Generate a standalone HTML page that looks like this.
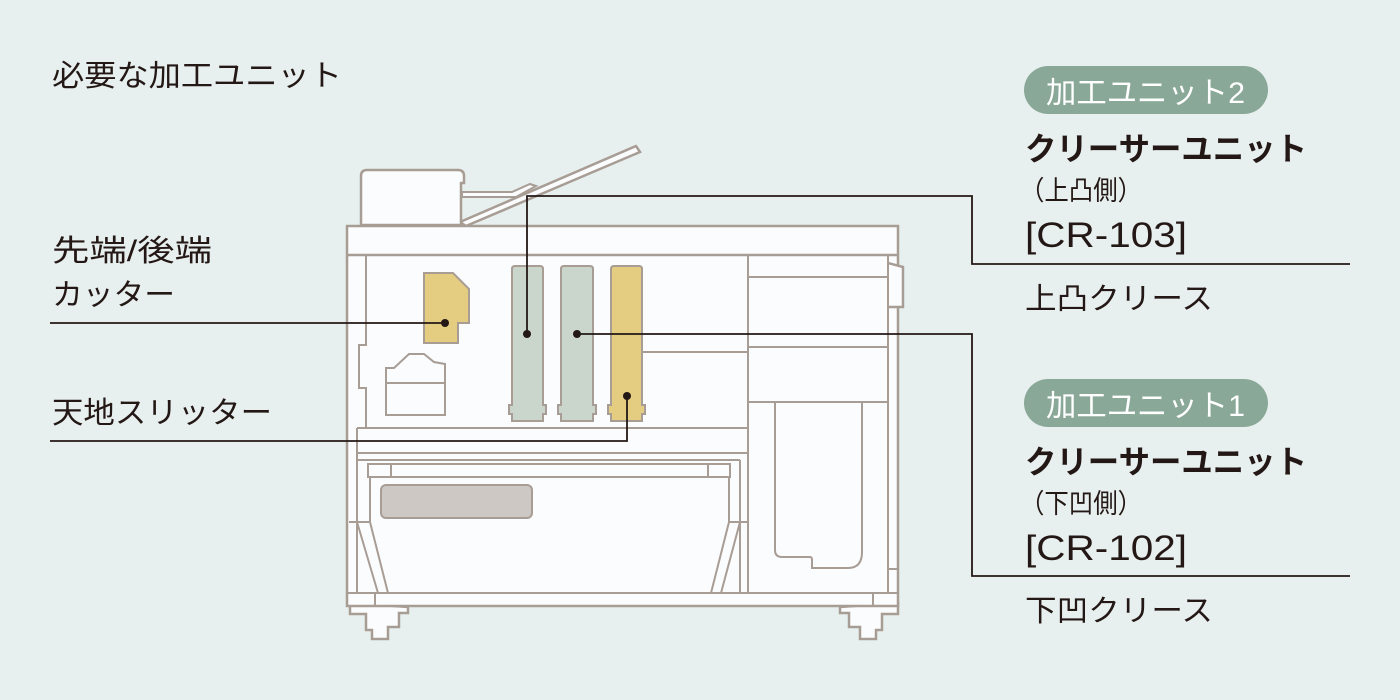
<!DOCTYPE html>
<html><head><meta charset="utf-8"><style>
html,body{margin:0;padding:0;background:#e8f0ef;}
svg{display:block;}
text{font-family:"Liberation Sans","Noto Sans CJK JP",sans-serif;fill:#231815;}
</style></head><body>
<svg width="1400" height="700" viewBox="0 0 1400 700" xmlns="http://www.w3.org/2000/svg">
<rect width="1400" height="700" fill="#e8f0ef"/>
<g fill="#fbfcfd" stroke="#a89d95" stroke-width="2.5">
  <polygon points="460,222 636,146 640,152 466,226"/>
  <polygon points="462,192 512,192 530,184 536,186 516,197 462,197" stroke-width="2"/>
  <path d="M361,225 L361,176 Q361,170 367,170 L458,170 Q464,170 464,176 L464,183 L461,183 L461,225 Z"/>
  <path d="M350,603 L350,614 L366,614 L366,630 L372,630 L372,639 L388,639 L388,627 L399,627 L399,613 L408,613 L408,607 Z"/>
  <path d="M898,603 L898,614 L882,614 L882,630 L876,630 L876,639 L860,639 L860,627 L849,627 L849,613 L840,613 L840,607 Z"/>
  <rect x="347" y="226" width="551" height="380"/>
  <line x1="347" y1="255" x2="898" y2="255"/>
  <path d="M888,263 L903,267 L903,307 L888,307" />
</g>
<g fill="none" stroke="#a89d95" stroke-width="2">
  <path d="M366,255 L366,345 L359,345 L359,388 L366,388 L366,428"/>
  <line x1="357" y1="428" x2="748" y2="428"/>
  <line x1="357" y1="428" x2="357" y2="453"/>
  <line x1="748" y1="255" x2="748" y2="593"/>
  <line x1="643" y1="352" x2="748" y2="352"/>
  <line x1="357" y1="453" x2="748" y2="453"/>
  <line x1="357" y1="460" x2="740" y2="460"/>
  <line x1="357" y1="453" x2="357" y2="593"/>
  <line x1="740" y1="460" x2="740" y2="593"/>
  <rect x="368" y="464" width="362" height="13"/>
  <line x1="391" y1="464" x2="391" y2="477"/>
  <line x1="708" y1="464" x2="708" y2="477"/>
  <path d="M370,477 L370,522 L349,522"/>
  <path d="M370,522 L388,593"/>
  <path d="M357,522 L378,593"/>
  <path d="M729,477 L729,522 L748,522"/>
  <path d="M729,522 L711,593"/>
  <path d="M740,522 L721,593"/>
  <line x1="347" y1="593" x2="898" y2="593"/>
  <line x1="375" y1="593" x2="375" y2="606"/>
  <line x1="873" y1="593" x2="873" y2="606"/>
  <line x1="888" y1="255" x2="888" y2="593"/>
  <line x1="748" y1="277" x2="888" y2="277"/>
  <line x1="748" y1="347" x2="888" y2="347"/>
  <line x1="748" y1="402" x2="888" y2="402"/>
  <path d="M775,403 L775,550 Q775,557 782,557 L810,557 Q812,557 812,560 L812,568 L848,568 Q862,568 862,552 L862,403"/>
  <line x1="888" y1="569" x2="898" y2="569"/>
  <path d="M386,415 L386,368 L394,368 L409,354 L424,354 L434,362 L445,364 L445,415 Z" fill="#fbfcfd"/>
  <line x1="386" y1="383" x2="445" y2="383"/>
</g>
<path d="M424,273 L453,273 L469,289 L469,323 L458,323 L458,343 L424,343 Z" fill="#e4cc80" stroke="#a89d95" stroke-width="2"/>
<g stroke="#a89d95" stroke-width="2">
  <path d="M512,269 Q512,266 515,266 L540,266 Q543,266 543,269 L543,405 L546,405 L546,414 L543,414 L543,421 L512,421 L512,414 L509,414 L509,405 L512,405 Z" fill="#cad5cc"/>
  <path d="M561,269 Q561,266 564,266 L590,266 Q593,266 593,269 L593,405 L596,405 L596,414 L593,414 L593,421 L561,421 L561,414 L558,414 L558,405 L561,405 Z" fill="#cad5cc"/>
  <path d="M611,269 Q611,266 614,266 L639,266 Q642,266 642,269 L642,405 L645,405 L645,414 L642,414 L642,421 L611,421 L611,414 L608,414 L608,405 L611,405 Z" fill="#e4cc80"/>
</g>
<rect x="381" y="485" width="151" height="33" rx="5" fill="#cdc8c4" stroke="#a89d95" stroke-width="2"/>
<g fill="none" stroke="#231815" stroke-width="1.8">
  <line x1="50" y1="323" x2="445" y2="323"/>
  <polyline points="50,441 627,441 627,396"/>
  <polyline points="527,334 527,196 972,196 972,264 1350,264"/>
  <polyline points="577,334 972,334 972,576 1350,576"/>
</g>
<g fill="#231815">
  <circle cx="445" cy="323" r="4"/>
  <circle cx="527" cy="334" r="4"/>
  <circle cx="577" cy="334" r="4"/>
  <circle cx="627" cy="396" r="4"/>
</g>
<text x="52" y="86" font-size="30" textLength="290" lengthAdjust="spacingAndGlyphs">必要な加工ユニット</text>
<text x="52" y="261" font-size="30" textLength="160" lengthAdjust="spacingAndGlyphs">先端/後端</text>
<text x="52" y="305" font-size="30" textLength="123" lengthAdjust="spacingAndGlyphs">カッター</text>
<text x="52" y="423" font-size="30" textLength="220" lengthAdjust="spacingAndGlyphs">天地スリッター</text>
<rect x="1024" y="66" width="244" height="48" rx="24" fill="#8aa898"/>
<text x="1046" y="103" font-size="30" style="fill:#fff" textLength="199" lengthAdjust="spacingAndGlyphs">加工ユニット2</text>
<text x="1025" y="160" font-size="32" font-weight="bold" textLength="282" lengthAdjust="spacingAndGlyphs">クリーサーユニット</text>
<text x="1020" y="200" font-size="27" textLength="122" lengthAdjust="spacingAndGlyphs">（上凸側）</text>
<text x="1025" y="247" font-size="35" textLength="162" lengthAdjust="spacingAndGlyphs">[CR-103]</text>
<text x="1025" y="309" font-size="30" textLength="188" lengthAdjust="spacingAndGlyphs">上凸クリース</text>
<rect x="1024" y="379" width="244" height="48" rx="24" fill="#8aa898"/>
<text x="1046" y="416" font-size="30" style="fill:#fff" textLength="199" lengthAdjust="spacingAndGlyphs">加工ユニット1</text>
<text x="1025" y="473" font-size="32" font-weight="bold" textLength="282" lengthAdjust="spacingAndGlyphs">クリーサーユニット</text>
<text x="1020" y="513" font-size="27" textLength="122" lengthAdjust="spacingAndGlyphs">（下凹側）</text>
<text x="1025" y="560" font-size="35" textLength="162" lengthAdjust="spacingAndGlyphs">[CR-102]</text>
<text x="1025" y="621" font-size="30" textLength="188" lengthAdjust="spacingAndGlyphs">下凹クリース</text>
</svg>
</body></html>
